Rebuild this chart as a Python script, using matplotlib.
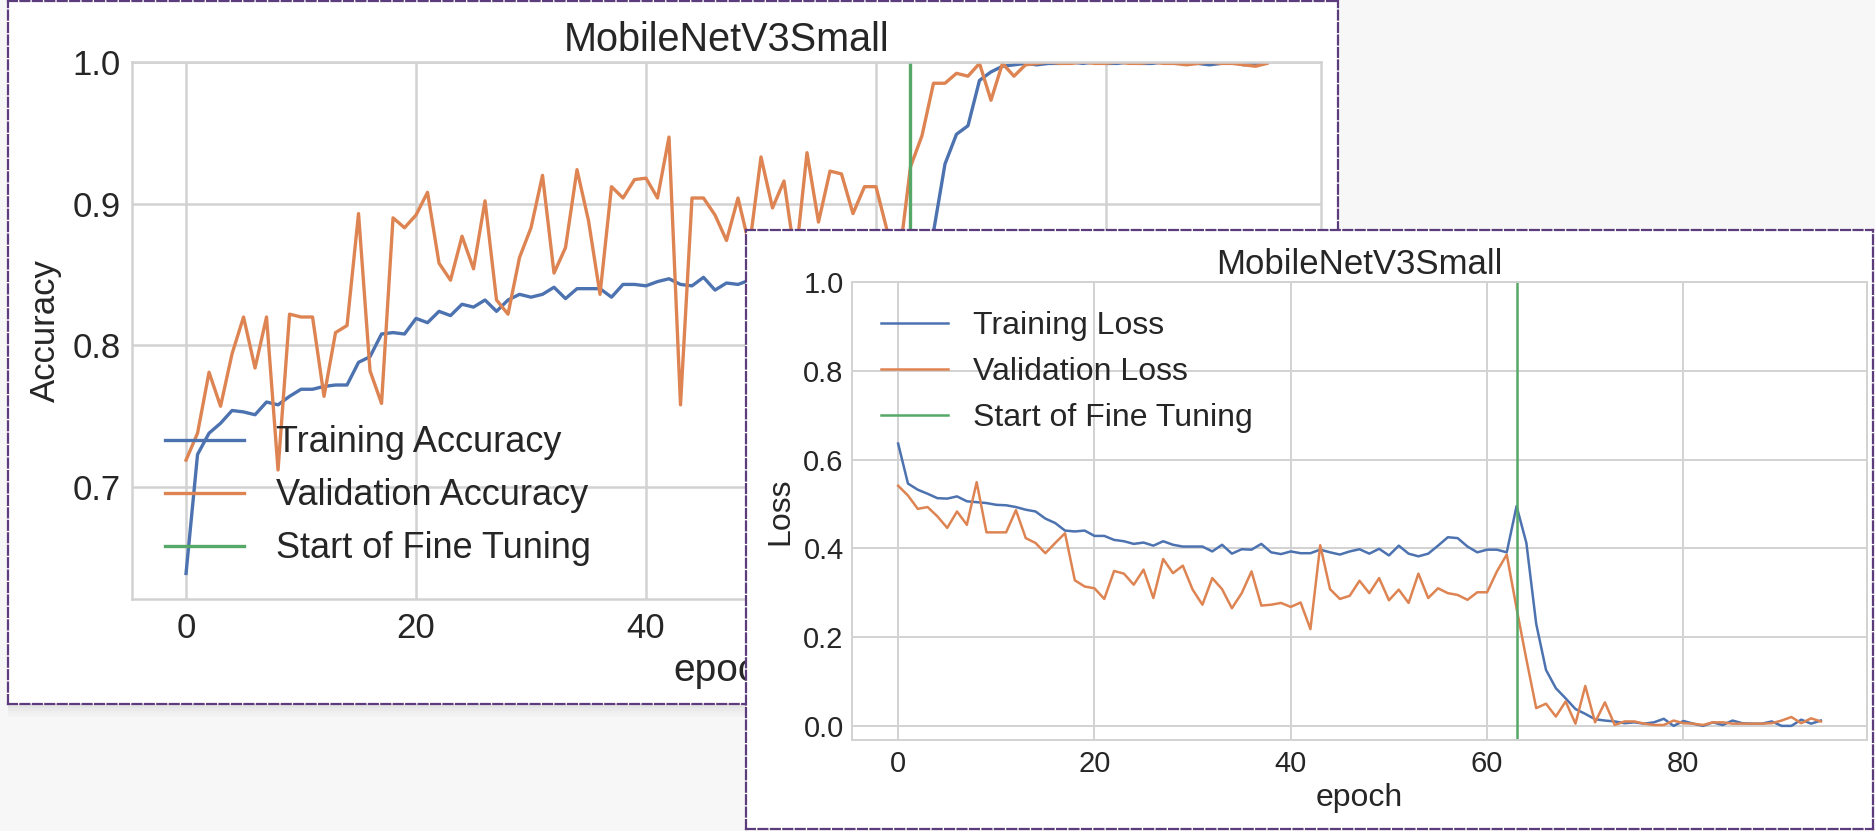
import matplotlib.pyplot as plt
import numpy as np
from matplotlib.patches import Rectangle

# output size in pixels (dpi 100)
W, H = 1875, 831

epochs = list(range(95))
fine_tune_at = 63

# accuracy curves
acc = [0.639, 0.723, 0.738, 0.745, 0.754, 0.753, 0.751, 0.760, 0.758, 0.764,
       0.769, 0.769, 0.771, 0.772, 0.772, 0.788, 0.792, 0.808, 0.809, 0.808,
       0.819, 0.816, 0.824, 0.821, 0.829, 0.827, 0.832, 0.824, 0.832, 0.836,
       0.834, 0.836, 0.841, 0.833, 0.840, 0.840, 0.840, 0.834, 0.843, 0.843,
       0.842, 0.845, 0.847, 0.843, 0.842, 0.848, 0.839, 0.844, 0.843, 0.846,
       0.840, 0.848, 0.843, 0.849, 0.846, 0.838, 0.833, 0.836, 0.844, 0.848,
       0.845, 0.846, 0.848, 0.830, 0.860, 0.880, 0.928, 0.949, 0.955, 0.987,
       0.993, 0.997, 0.998, 0.999, 0.998, 0.999, 0.999, 1.000, 0.999, 1.000,
       0.999, 0.999, 1.000, 0.999, 0.999, 1.000, 0.999, 0.999, 0.999, 0.998,
       0.999, 1.000, 0.998, 0.999, 1.000]
val_acc = [0.719, 0.738, 0.781, 0.757, 0.794, 0.820, 0.784, 0.820, 0.712, 0.822,
           0.820, 0.820, 0.764, 0.809, 0.814, 0.893, 0.782, 0.759, 0.890, 0.883,
           0.892, 0.908, 0.858, 0.846, 0.877, 0.854, 0.902, 0.832, 0.822, 0.862,
           0.883, 0.920, 0.851, 0.869, 0.924, 0.888, 0.836, 0.912, 0.904, 0.917,
           0.918, 0.904, 0.947, 0.758, 0.904, 0.904, 0.892, 0.874, 0.904, 0.870,
           0.933, 0.897, 0.916, 0.860, 0.936, 0.887, 0.923, 0.921, 0.893, 0.912,
           0.912, 0.880, 0.860, 0.926, 0.948, 0.985, 0.985, 0.992, 0.990, 0.999,
           0.973, 0.999, 0.990, 0.998, 0.999, 1.000, 0.999, 0.999, 1.000, 0.999,
           0.999, 1.000, 0.999, 0.999, 1.000, 0.999, 0.999, 0.998, 0.999, 1.000,
           0.999, 0.999, 0.998, 0.997, 0.999]

# loss curves
loss = [0.636, 0.546, 0.532, 0.523, 0.513, 0.512, 0.517, 0.506, 0.504, 0.502,
        0.498, 0.497, 0.493, 0.487, 0.483, 0.467, 0.457, 0.440, 0.438, 0.440,
        0.428, 0.428, 0.419, 0.416, 0.410, 0.413, 0.406, 0.416, 0.408, 0.404,
        0.404, 0.404, 0.393, 0.408, 0.388, 0.398, 0.397, 0.410, 0.391, 0.387,
        0.393, 0.389, 0.389, 0.397, 0.391, 0.386, 0.393, 0.398, 0.388, 0.399,
        0.384, 0.406, 0.388, 0.382, 0.388, 0.406, 0.425, 0.423, 0.404, 0.391,
        0.397, 0.397, 0.391, 0.495, 0.412, 0.230, 0.126, 0.085, 0.062, 0.038,
        0.027, 0.015, 0.012, 0.010, 0.006, 0.008, 0.005, 0.008, 0.016, 0.000,
        0.011, 0.005, 0.000, 0.008, 0.002, 0.012, 0.006, 0.005, 0.005, 0.010,
        0.000, 0.000, 0.014, 0.005, 0.012]
val_loss = [0.541, 0.519, 0.489, 0.493, 0.472, 0.446, 0.483, 0.453, 0.549, 0.436,
            0.436, 0.436, 0.486, 0.423, 0.412, 0.389, 0.412, 0.434, 0.328, 0.314,
            0.310, 0.286, 0.349, 0.343, 0.318, 0.352, 0.288, 0.376, 0.344, 0.361,
            0.307, 0.273, 0.333, 0.308, 0.265, 0.299, 0.348, 0.271, 0.273, 0.277,
            0.268, 0.278, 0.218, 0.407, 0.308, 0.286, 0.293, 0.327, 0.299, 0.333,
            0.283, 0.307, 0.277, 0.343, 0.288, 0.310, 0.299, 0.295, 0.284, 0.301,
            0.301, 0.348, 0.386, 0.265, 0.150, 0.040, 0.050, 0.021, 0.055, 0.005,
            0.090, 0.008, 0.053, 0.002, 0.010, 0.010, 0.005, 0.002, 0.002, 0.012,
            0.006, 0.005, 0.002, 0.008, 0.008, 0.005, 0.005, 0.005, 0.005, 0.006,
            0.012, 0.020, 0.006, 0.017, 0.010]

BLUE, ORANGE, GREEN = '#4c72b0', '#dd8452', '#55a868'
BORDER = '#5d3c7e'
GRID = '#d2d2d2'
TEXT = '#262626'

plt.rcParams['font.family'] = ['Liberation Sans', 'DejaVu Sans']


def box(x0, y0, x1, y1):
    # pixel box, origin top-left -> figure fraction [l, b, w, h]
    return [x0 / W, (H - y1) / H, (x1 - x0) / W, (y1 - y0) / H]


def panel(fig, rect):
    bg = fig.add_axes(rect)
    bg.set_xticks([])
    bg.set_yticks([])
    bg.set_facecolor('white')
    for s in bg.spines.values():
        s.set_color(BORDER)
        s.set_linestyle((0, (4, 1.6)))
        s.set_linewidth(1.6)
    return bg


def style(ax, fs, glw):
    ax.set_facecolor('white')
    ax.grid(True, color=GRID, lw=glw)
    ax.set_axisbelow(True)
    for s in ax.spines.values():
        s.set_color(GRID)
        s.set_linewidth(glw)
    ax.tick_params(length=0, labelsize=fs, colors=TEXT)


fig = plt.figure(figsize=(W / 100, H / 100), dpi=100, facecolor='#f7f7f7')

# soft shadow under the first card
for i, a in enumerate([0.10, 0.07, 0.05, 0.03, 0.015]):
    fig.add_artist(Rectangle((8 / W, (H - 705 - 3 * i) / H), 740 / W, 3 / H,
                             transform=fig.transFigure, color='black', alpha=a,
                             lw=0, zorder=-1))

# ---- accuracy card
panel(fig, box(8, 1, 1338, 704))
ax1 = fig.add_axes(box(132, 62, 1321, 599))
style(ax1, 25, 1.8)
ax1.plot(epochs, acc, color=BLUE, lw=2.4, label='Training Accuracy')
ax1.plot(epochs, val_acc, color=ORANGE, lw=2.4, label='Validation Accuracy')
ax1.set_ylim(min(ax1.get_ylim()), 1)
ax1.plot([fine_tune_at, fine_tune_at], ax1.get_ylim(), color=GREEN, lw=2.4,
         label='Start of Fine Tuning')
ax1.set_yticks([0.7, 0.8, 0.9, 1.0])
ax1.set_yticklabels(['0.7', '0.8', '0.9', '1.0'])
ax1.set_xticks([0, 20, 40, 60, 80])
ax1.tick_params(axis='y', pad=8)
ax1.tick_params(axis='x', pad=9)
ax1.legend(loc='lower left', fontsize=26, frameon=False, handlelength=2.2,
           handletextpad=0.9, labelspacing=0.5, labelcolor=TEXT)
ax1.set_title('MobileNetV3Small', fontsize=28.5, color=TEXT, pad=8)
ax1.set_ylabel('Accuracy', fontsize=25, color=TEXT, labelpad=8)
ax1.set_xlabel('epoch', fontsize=28, color=TEXT, labelpad=6)

# ---- loss card
panel(fig, box(746, 230, 1873, 829))
ax2 = fig.add_axes(box(852, 282, 1867, 740))
style(ax2, 21, 1.4)
ax2.plot(epochs, loss, color=BLUE, lw=1.8, label='Training Loss')
ax2.plot(epochs, val_loss, color=ORANGE, lw=1.8, label='Validation Loss')
ax2.set_ylim(min(ax2.get_ylim()), 1)
ax2.plot([fine_tune_at, fine_tune_at], ax2.get_ylim(), color=GREEN, lw=1.8,
         label='Start of Fine Tuning')
ax2.set_yticks([0.0, 0.2, 0.4, 0.6, 0.8, 1.0])
ax2.set_yticklabels(['0.0', '0.2', '0.4', '0.6', '0.8', '1.0'])
ax2.set_xticks([0, 20, 40, 60, 80])
ax2.tick_params(axis='y', pad=6)
ax2.tick_params(axis='x', pad=7)
ax2.legend(loc='upper left', fontsize=23, frameon=False, handlelength=2.1,
           handletextpad=0.8, labelspacing=0.5, labelcolor=TEXT)
ax2.set_title('MobileNetV3Small', fontsize=25, color=TEXT, pad=6)
ax2.set_ylabel('Loss', fontsize=23, color=TEXT, labelpad=6)
ax2.set_xlabel('epoch', fontsize=23, color=TEXT, labelpad=4)

fig.savefig('out.png', dpi=100, facecolor=fig.get_facecolor())
